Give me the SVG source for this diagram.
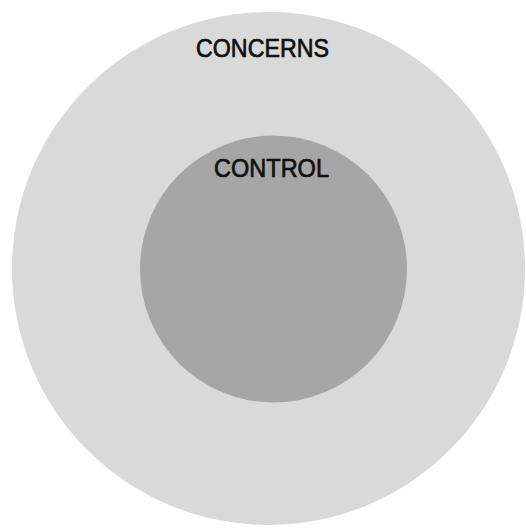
<svg xmlns="http://www.w3.org/2000/svg" width="526" height="529" viewBox="0 0 526 529">
<style>
.lbl{font-family:"Liberation Sans","DejaVu Sans",sans-serif;font-size:25px;fill:#111;stroke:#111;stroke-width:0.7px;text-anchor:middle}
</style>
<rect width="526" height="529" fill="#ffffff"/>
<g id="concerns">
<circle cx="268.5" cy="268.5" r="256.5" fill="#d9d9d9"/>
<text class="lbl" x="262.5" y="57" textLength="133" lengthAdjust="spacingAndGlyphs">CONCERNS</text>
</g>
<g id="control">
<circle cx="273.5" cy="269" r="133.5" fill="#a6a6a6"/>
<text class="lbl" x="271.5" y="177" textLength="115" lengthAdjust="spacingAndGlyphs">CONTROL</text>
</g>
<g id="connectors"></g>
</svg>
